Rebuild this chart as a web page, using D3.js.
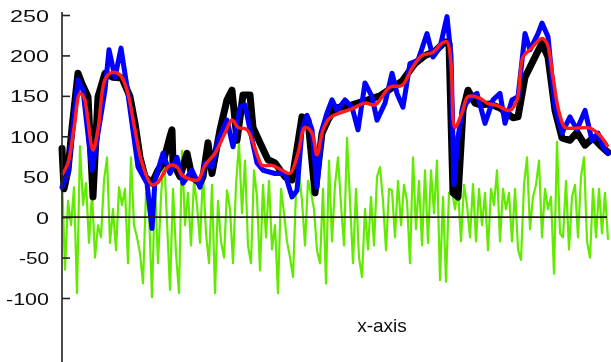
<!DOCTYPE html>
<html>
<head>
<meta charset="utf-8">
<script src="https://cdn.jsdelivr.net/npm/d3@7"></script>
<style>
  body { margin: 0; background: #fff; }
</style>
</head>
<body>
<svg id="chart" width="611" height="362"></svg>
<script>
// Data: [sample, value] pairs
const rawBlack = [[0,85],[2,35],[6,58],[10,110],[16,178],[20,165],[26,149],[31,25],[36,149],[43,178],[51,173],[60,172],[68,149],[73,116],[78,74],[83,50],[90,42],[96,58],[101,67],[108,100],[110,108],[111,67],[118,50],[125,79],[130,50],[138,42],[141,50],[146,92],[150,54],[158,108],[165,145],[170,157],[175,95],[181,151],[188,151],[191,111],[198,92],[206,71],[213,67],[223,50],[230,46],[240,124],[246,120],[253,30],[260,104],[266,120],[273,135],[278,136],[288,138],[298,142],[306,145],[318,150],[330,160],[340,168],[353,190],[363,200],[373,205],[383,217],[387,215],[391,30],[396,25],[401,132],[406,157],[413,141],[418,139],[428,140],[438,135],[451,123],[456,124],[463,173],[475,203],[480,215],[486,198],[493,132],[500,98],[508,95],[515,105],[523,89],[531,98],[538,89],[546,80]];

const rawBlue = [[0,37],[6,54],[16,170],[21,157],[30,58],[43,157],[47,207],[53,173],[59,209],[65,161],[70,116],[76,62],[85,42],[90,-14],[93,46],[101,79],[108,54],[115,74],[121,42],[130,58],[138,37],[143,67],[150,62],[156,95],[165,120],[171,87],[178,136],[183,139],[188,108],[195,67],[201,58],[213,54],[223,54],[230,25],[235,33],[240,108],[245,126],[250,108],[255,37],[260,108],[265,129],[270,145],[275,132],[283,145],[290,136],[296,108],[303,166],[310,149],[315,120],[323,141],[330,178],[335,153],[341,136],[348,190],[356,194],[365,227],[371,198],[378,210],[385,248],[389,200],[392,40],[396,99],[401,136],[410,149],[415,153],[423,116],[431,145],[438,153],[443,116],[450,145],[456,149],[463,227],[468,207],[476,227],[480,240],[486,223],[493,136],[500,104],[508,124],[515,108],[523,132],[530,95],[536,104],[541,87],[546,79]];

const smoothed = [[0,52],[6,67],[12,110],[18,153],[22,148],[25,129],[31,83],[36,108],[43,170],[50,179],[58,176],[65,157],[73,108],[80,67],[90,40],[96,43],[102,55],[108,64],[115,62],[120,52],[128,47],[136,46],[143,64],[153,79],[163,104],[170,120],[176,111],[185,108],[196,74],[200,64],[210,64],[220,58],[228,54],[236,79],[243,111],[250,104],[255,77],[261,108],[268,123],[278,129],[290,134],[303,141],[313,139],[328,161],[340,163],[350,184],[360,200],[370,203],[380,215],[385,217],[389,190],[393,111],[400,129],[406,149],[418,147],[425,141],[435,138],[448,132],[455,145],[461,198],[468,207],[480,221],[485,215],[491,173],[497,130],[503,111],[511,110],[528,110],[538,101],[546,87]];

// residual, one value every 3 samples
const residual = [
  50,-65,20,-10,37,-94,88,15,42,-32,
  30,-50,-10,-25,45,74,-32,10,-41,37,
  15,35,-57,74,-10,-25,-45,-82,30,5,
  -99,40,-57,25,79,-5,-90,35,-45,-94,
  82,-10,30,-35,45,15,-32,55,-20,-57,
  40,-94,20,-30,-50,33,10,-57,40,92,
  5,70,-35,-57,58,25,-66,40,-25,45,
  -40,-10,-94,35,5,-30,-50,-74,30,58,
  20,-35,45,30,10,-41,-57,35,-82,70,
  -30,40,74,15,-35,98,20,-57,35,-50,
  -74,10,-40,25,-35,50,62,20,-41,35,
  33,-25,45,-10,40,20,-57,74,-15,45,
  -35,58,-32,58,5,70,-78,25,-80,30,
  33,10,35,-30,40,15,-25,41,-30,35,
  -10,30,-41,35,15,58,-30,35,10,30,
  -30,35,-40,-53,40,74,-15,25,40,70,
  -25,35,10,25,-70,93,-20,-25,45,-40,
  25,40,-25,50,74,-30,-50,35,-25,35,
  -20,30,-28
];
const RESID_STEP = 3;

const yTicks = [-100, -50, 0, 50, 100, 150, 200, 250];
const X_LABEL = 'x-axis';

const WIDTH = 611, HEIGHT = 362;
const AXIS_X = 62;

const svg = d3.select('#chart');

// soft edges like the reference
svg.append('defs').append('filter')
  .attr('id', 'soft')
  .append('feGaussianBlur')
  .attr('stdDeviation', 0.45);

const root = svg.append('g').attr('filter', 'url(#soft)');

const x = d3.scaleLinear().domain([0, 546]).range([AXIS_X, 608]);
const y = d3.scaleLinear().domain([-100, 250]).range([298, 15]);

const line = d3.line()
  .x(d => x(d[0]))
  .y(d => y(d[1]));

// residual (green) first, under everything
root.append('path')
  .datum(residual.map((v, i) => [i * RESID_STEP, v]))
  .attr('d', line)
  .attr('fill', 'none')
  .attr('stroke', '#62ea00')
  .attr('stroke-width', 2.2)
  .attr('stroke-linejoin', 'round');

root.append('path')
  .datum(rawBlack)
  .attr('d', line)
  .attr('fill', 'none')
  .attr('stroke', '#000')
  .attr('stroke-width', 7)
  .attr('stroke-linejoin', 'round')
  .attr('stroke-linecap', 'round');

root.append('path')
  .datum(rawBlue)
  .attr('d', line)
  .attr('fill', 'none')
  .attr('stroke', '#0000ff')
  .attr('stroke-width', 5)
  .attr('stroke-linejoin', 'round')
  .attr('stroke-linecap', 'round');

root.append('path')
  .datum(smoothed)
  .attr('d', line.curve(d3.curveCatmullRom))
  .attr('fill', 'none')
  .attr('stroke', '#ff1a1a')
  .attr('stroke-width', 3.5)
  .attr('stroke-linejoin', 'round');

// zero line
root.append('line')
  .attr('x1', AXIS_X).attr('x2', 607)
  .attr('y1', y(0)).attr('y2', y(0))
  .attr('stroke', '#1a1a1a')
  .attr('stroke-width', 1.6);

// y axis
const yAxis = d3.axisLeft(y)
  .tickValues(yTicks)
  .tickSize(-8)
  .tickPadding(13);

const gy = root.append('g')
  .attr('transform', `translate(${AXIS_X},0)`)
  .call(yAxis);
gy.select('.domain').remove();
gy.selectAll('.tick line')
  .attr('stroke', '#222')
  .attr('stroke-width', 1.6);
gy.selectAll('.tick text')
  .attr('fill', '#111')
  .style('font-family', '"Liberation Sans", Arial, sans-serif')
  .style('font-size', '17px')
  .attr('dy', '0.36em')
  .attr('lengthAdjust', 'spacingAndGlyphs')
  .attr('textLength', d => {
    const s = String(d);
    const digits = s.replace('-', '').length;
    return digits * 13 + (s.startsWith('-') ? 4 : 0);
  })
  .text(d => String(d));

root.append('line')
  .attr('x1', AXIS_X).attr('x2', AXIS_X)
  .attr('y1', 12).attr('y2', HEIGHT)
  .attr('stroke', '#222')
  .attr('stroke-width', 1.6);

root.append('text')
  .attr('x', 382)
  .attr('y', 332)
  .attr('text-anchor', 'middle')
  .style('font-family', '"Liberation Sans", Arial, sans-serif')
  .style('font-size', '19px')
  .attr('fill', '#111')
  .text(X_LABEL);
</script>
</body>
</html>
